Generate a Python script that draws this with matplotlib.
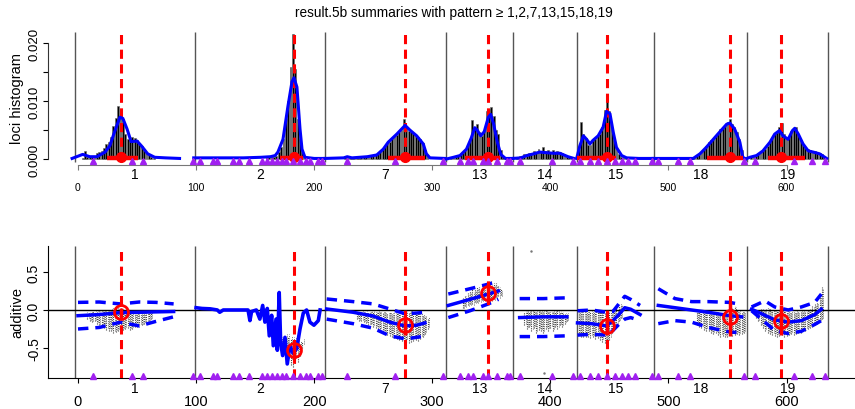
import numpy as np
import matplotlib.pyplot as plt

plt.rcParams['font.family'] = ['Liberation Sans', 'DejaVu Sans']

# chromosomes and qtl
chrom_names = ['1', '2', '7', '13', '14', '15', '18', '19']
chrom_bounds = [-2.5, 99, 209, 311.5, 368, 422.5, 487.5, 566.5, 635]
qtl_pos = [36, 183, 277, 347.5, 448, 552, 595]
ci_lo = [24.5, 171, 262.5, 327.7, 422.5, 532.6, 584]
ci_hi = [51, 190.5, 294, 357, 456, 563, 615.6]
qtl_eff = [-0.02, -0.52, -0.2, 0.22, -0.21, -0.09, -0.14]
qtl_eff_lo = [-0.06, -0.60, -0.33, 0.10, -0.33, -0.34, -0.33]
qtl_eff_hi = [0.02, -0.44, -0.12, 0.34, -0.12, 0.10, 0.06]
marker_pos = [12.7, 45.7, 55, 97.4, 103.3, 114.3, 117.7, 131.2, 136.3, 144.8, 155.8,
              160, 164.3, 168.5, 172.7, 176.1, 182, 188, 193, 196.4, 203.2, 206.6,
              227.8, 268.4, 309, 323.5, 330.2, 334.5, 343, 347.2, 354.8, 363.3, 365.8,
              374.3, 401.4, 419.1, 425, 433.5, 440.3, 447.9, 454.7, 460.6, 465.7, 471.6,
              486, 491, 508, 518.2, 564, 573.2, 606.3, 621.5, 632.5]

# loci histogram (x1e-3), bins of 2 cM starting at hist_start
hist_start = [4, 160, 226, 316, 372, 424, 520, 570]
hist_1 = [0.2, 1.4, 0.3, 0.3, 0.6, 0.5, 1.0, 1.2, 1.4, 1.9, 2.6, 3.0, 3.8, 5.7, 7.0, 9.2,
          8.3, 6.9, 4.4, 3.4, 3.2, 3.8, 3.6, 3.2, 2.6, 2.2, 1.5, 1.2, 0.7, 0.4, 0.2]
hist_2 = [0.3, 0.3, 0.4, 0.4, 0.5, 1.2, 2.0, 3.4, 6.9, 10.0, 15.8, 21.5, 15.5, 6.9, 3.4, 1.2, 0.4]
hist_7 = [0.6, 0.2, 0.1, 0.2, 0.1, 0.2, 0.2, 0.3, 0.4, 0.4, 0.5, 0.6, 0.5, 0.7, 1.0, 1.3, 1.8,
          2.3, 2.7, 3.0, 3.6, 4.1, 4.2, 4.6, 5.0, 6.9, 5.3, 4.9, 4.6, 4.5, 4.1, 3.8, 3.4, 2.8, 1.6, 0.6]
hist_13 = [0.3, 0.4, 0.5, 0.6, 0.8, 1.0, 1.5, 2.4, 3.5, 6.8, 5.4, 6.0, 4.6, 4.0, 5.0, 8.3,
           8.6, 9.0, 7.4, 5.0, 4.3, 1.5, 0.5, 0.2]
hist_14 = [0.3, 0.5, 0.4, 0.8, 0.6, 1.0, 0.9, 1.3, 1.2, 1.8, 1.4, 2.1, 1.3, 1.6, 1.1, 1.5,
           1.0, 1.4, 1.2, 1.0, 0.8, 0.6, 0.4, 0.2]
hist_15 = [1.5, 6.3, 4.3, 3.6, 2.5, 2.4, 3.3, 3.5, 4.0, 4.4, 5.6, 8.5, 10.0, 8.3, 5.3, 3.2,
           1.8, 0.8, 0.4, 0.3, 0.2]
hist_18 = [0.3, 0.4, 0.6, 0.9, 1.3, 1.8, 2.2, 3.0, 3.2, 3.5, 3.9, 4.4, 5.2, 5.6, 5.9, 6.3,
           6.9, 6.0, 5.5, 4.6, 3.5, 1.5, 0.3]
hist_19 = [0.3, 0.5, 0.7, 1.0, 1.2, 1.5, 1.8, 2.3, 3.0, 3.6, 4.3, 4.6, 5.6, 6.2, 4.4, 3.6,
           3.7, 4.9, 5.4, 5.6, 4.4, 3.2, 2.4, 1.9, 1.7, 1.6, 1.4, 1.3, 1.2, 1.1, 0.8, 0.4]

# smoothed density (x1e-3)
dens1_x = [-5, 4, 10, 16, 23, 27, 31, 35.5, 38, 41.5, 45, 50, 54, 59, 65, 74, 86]
dens1_y = [0.1, 0.8, 0.4, 0.4, 1.2, 2.3, 4.7, 7.2, 7.0, 5.2, 3.0, 3.1, 2.2, 0.9, 0.3, 0.2, 0.1]
dens2_x = [98, 120, 140, 155, 163, 167, 169.3, 173.6, 177.8, 181.2, 182.9, 185.4, 188, 189.7, 192.2, 200, 208]
dens2_y = [0.2, 0.2, 0.2, 0.3, 0.4, 0.6, 1.2, 3.4, 9.1, 13.3, 14.0, 12.4, 5.2, 1.7, 0.3, 0.1, 0.1]
dens7_x = [209, 225, 228, 232, 245, 253, 258.5, 262.7, 270, 277, 281, 286.8, 292.4, 295, 298, 311]
dens7_y = [0.1, 0.2, 0.4, 0.2, 0.4, 0.7, 1.7, 2.9, 4.3, 5.8, 5.0, 4.0, 2.6, 0.9, 0.2, 0.1]
dens13_x = [312, 318, 323.5, 329, 333, 336, 338, 341, 344, 347.5, 349.5, 352, 355, 358, 362, 368]
dens13_y = [0.0, 0.3, 0.6, 1.7, 3.6, 5.4, 5.0, 4.0, 4.7, 7.2, 7.7, 6.0, 3.0, 0.8, 0.1, 0.1]
dens14_x = [368, 375, 380, 386, 391, 396, 402, 408, 415, 420]
dens14_y = [0.1, 0.2, 0.6, 0.9, 1.2, 1.1, 1.0, 1.0, 0.4, 0.1]
dens15_x = [422.3, 425, 428, 430.7, 433.5, 436, 440.5, 444.7, 447.6, 450.5, 453.3, 456, 460.4, 464.6, 475, 487]
dens15_y = [0.1, 2.3, 4.0, 3.4, 2.6, 3.2, 4.0, 5.5, 8.2, 7.8, 4.6, 2.0, 0.6, 0.2, 0.1, 0.1]
dens18_x = [487, 505, 521, 526.7, 532, 538, 543.6, 549.3, 552, 556, 560.5, 563, 565.6]
dens18_y = [0.1, 0.1, 0.1, 0.9, 2.0, 3.4, 4.7, 6.0, 6.2, 5.2, 2.9, 0.3, 0.0]
dens19_x = [566.5, 569, 574.6, 580, 586, 590, 594, 597, 601.4, 605, 607, 610, 614, 618.4, 622.6, 628, 634]
dens19_y = [0.1, 0.3, 0.6, 1.4, 2.9, 4.3, 4.9, 4.0, 3.4, 4.9, 5.3, 4.3, 2.6, 1.4, 1.2, 0.9, 0.1]

# additive effect summaries
eff1_x = [0, 18, 36, 52, 66, 81]
eff1_mean = [-0.075, -0.06, -0.035, -0.03, -0.025, -0.02]
eff1_up = [0.10, 0.105, 0.08, 0.105, 0.10, 0.08]
eff1_lo = [-0.25, -0.23, -0.16, -0.21, -0.15, -0.09]
eff2_x = [100, 105, 112, 118, 120, 123, 135, 144, 145.6, 147, 151, 154, 156.4, 158.3, 160.3,
          162, 164, 165.4, 167.7, 168.8, 170.4, 171.6, 173.3, 175.3, 177.2, 179.5, 182.3,
          185.2, 188, 190.8, 193.6, 196.4, 199.8, 203.5, 205]
eff2_mean = [0.03, 0.02, 0.015, 0.0, -0.03, 0.0, 0.0, 0.0, -0.14, -0.02, 0.0, -0.12, 0.06,
             -0.16, 0.02, -0.34, -0.07, -0.47, -0.12, -0.53, 0.23, -0.43, -0.6, -0.36, -0.71,
             -0.47, -0.57, -0.51, -0.25, -0.04, 0.0, -0.16, -0.2, -0.14, 0.0]
eff7_x = [210.6, 233, 250, 264, 277, 286.8, 293.8]
eff7_mean = [0.013, -0.03, -0.08, -0.16, -0.21, -0.2, -0.17]
eff7_up = [0.145, 0.11, 0.08, 0.013, -0.05, -0.04, -0.03]
eff7_lo = [-0.12, -0.18, -0.24, -0.34, -0.38, -0.36, -0.34]
eff13_x = [313.6, 332, 347.5, 356]
eff13_mean = [0.06, 0.14, 0.21, 0.25]
eff13_up = [0.21, 0.28, 0.34, 0.38]
eff13_lo = [-0.10, -0.01, 0.08, 0.14]
eff14_x = [374, 394, 414]
eff14_mean = [-0.10, -0.09, -0.09]
eff14_up = [0.15, 0.15, 0.16]
eff14_lo = [-0.35, -0.35, -0.34]
eff15_x = [423, 435, 447.6, 453, 458, 463, 468, 476]
eff15_mean = [-0.17, -0.18, -0.21, -0.14, -0.06, 0.03, 0.01, -0.06]
eff15_up = [-0.01, 0.0, -0.03, -0.02, 0.08, 0.18, 0.14, 0.06]
eff15_lo = [-0.33, -0.32, -0.33, -0.27, -0.19, -0.12, -0.10, -0.14]
eff18_x = [491.4, 505.5, 519.6, 533.7, 552, 562]
eff18_mean = [0.06, 0.03, 0.0, -0.03, -0.075, -0.09]
eff18_up = [0.28, 0.15, 0.11, 0.11, 0.10, 0.07]
eff18_lo = [-0.18, -0.14, -0.16, -0.23, -0.29, -0.30]
eff19_x = [570.4, 581.7, 590, 601.4, 612.6, 623.9, 629.5]
eff19_mean = [0.01, -0.07, -0.13, -0.16, -0.14, -0.06, 0.01]
eff19_up = [0.04, 0.12, 0.04, 0.0, 0.04, 0.10, 0.21]
eff19_lo = [-0.01, -0.16, -0.27, -0.31, -0.28, -0.19, -0.14]

# sampled effects, range per 2 cM bin starting at samp_start
samp_start = [8, 172, 236, 326, 378, 424, 524, 574]
samp1_lo = [-0.12, -0.14, -0.16, -0.15, -0.18, -0.2, -0.22, -0.24, -0.26, -0.27, -0.28, -0.3, -0.29, -0.28,
            -0.27, -0.26, -0.25, -0.24, -0.26, -0.25, -0.23, -0.22, -0.2, -0.2, -0.18, -0.16, -0.14, -0.12]
samp1_hi = [-0.03, -0.03, -0.02, -0.02, -0.02, -0.01, -0.01, 0.0, 0.0, 0.01, 0.01, 0.02, 0.02, 0.02,
            0.02, 0.01, 0.01, 0.0, 0.0, 0.0, -0.01, -0.01, -0.01, -0.02, -0.02, -0.02, -0.03, -0.03]
samp2_lo = [-0.55, -0.6, -0.65, -0.7, -0.72, -0.75, -0.7, -0.68, -0.6, -0.5]
samp2_hi = [-0.4, -0.38, -0.35, -0.35, -0.38, -0.4, -0.4, -0.42, -0.45, -0.42]
samp7_lo = [-0.12, -0.14, -0.15, -0.16, -0.17, -0.2, -0.19, -0.22, -0.24, -0.25, -0.27, -0.29, -0.3,
            -0.33, -0.34, -0.36, -0.37, -0.38, -0.4, -0.41, -0.43, -0.42, -0.43, -0.42, -0.41, -0.4,
            -0.41, -0.38, -0.36, -0.32, -0.25]
samp7_hi = [-0.03, -0.03, -0.02, -0.03, -0.02, -0.03, -0.02, -0.02, -0.03, -0.02, -0.03, -0.02, -0.03,
            -0.04, -0.03, -0.05, -0.04, -0.03, -0.04, -0.02, -0.01, -0.02, -0.03, 0.0, -0.02, -0.03,
            -0.04, -0.05, -0.06, -0.08, -0.1]
samp13_lo = [0.03, 0.05, 0.06, 0.08, 0.08, 0.1, 0.1, 0.12, 0.13, 0.13, 0.12, 0.1, 0.13, 0.15, 0.17, 0.18, 0.2]
samp13_hi = [0.17, 0.2, 0.22, 0.25, 0.27, 0.28, 0.3, 0.3, 0.32, 0.34, 0.36, 0.37, 0.38, 0.36, 0.35, 0.33, 0.28]
samp14_lo = [-0.2, -0.25, -0.22, -0.28, -0.24, -0.3, -0.26, -0.28, -0.3, -0.25, -0.27, -0.24, -0.28,
             -0.22, -0.25, -0.2, -0.22, -0.18, -0.15]
samp14_hi = [-0.02, -0.01, -0.02, 0.0, -0.01, -0.02, 0.0, -0.01, -0.02, 0.0, -0.01, -0.02, -0.01,
             -0.02, 0.0, -0.02, -0.03, -0.04, -0.05]
samp15_lo = [-0.33, -0.35, -0.35, -0.36, -0.35, -0.37, -0.36, -0.38, -0.37, -0.4, -0.42, -0.44,
             -0.48, -0.4, -0.3, -0.25, -0.2, -0.15, -0.1]
samp15_hi = [-0.02, -0.02, -0.02, -0.02, -0.02, -0.02, -0.02, -0.02, -0.02, -0.02, -0.02, -0.02,
             0.0, -0.02, -0.05, -0.02, 0.02, 0.05, 0.08]
samp18_lo = [-0.2, -0.22, -0.24, -0.26, -0.27, -0.28, -0.3, -0.32, -0.3, -0.33, -0.35, -0.34,
             -0.36, -0.35, -0.33, -0.34, -0.33, -0.32, -0.33, -0.32, -0.3]
samp18_hi = [0.0, -0.01, -0.02, -0.02, -0.03, -0.02, -0.03, -0.04, -0.03, -0.03, -0.04, -0.03,
             -0.02, -0.03, 0.0, 0.02, 0.05, 0.0, -0.02, -0.02, -0.03]
samp19_lo = [-0.1, -0.15, -0.2, -0.24, -0.28, -0.3, -0.32, -0.33, -0.34, -0.35, -0.34, -0.33, -0.35,
             -0.34, -0.33, -0.32, -0.33, -0.31, -0.3, -0.3, -0.28, -0.27, -0.25, -0.24, -0.22,
             -0.2, -0.18, -0.15, -0.12]
samp19_hi = [0.0, 0.0, 0.01, 0.02, 0.01, 0.02, 0.01, 0.0, -0.01, 0.0, -0.01, -0.02, -0.01, -0.02,
             -0.03, -0.02, -0.03, -0.02, -0.03, -0.02, -0.01, -0.02, 0.0, 0.02, 0.05, 0.08, 0.1, 0.2, 0.3]

hists = [hist_1, hist_2, hist_7, hist_13, hist_14, hist_15, hist_18, hist_19]
dens = [(dens1_x, dens1_y), (dens2_x, dens2_y), (dens7_x, dens7_y), (dens13_x, dens13_y),
        (dens14_x, dens14_y), (dens15_x, dens15_y), (dens18_x, dens18_y), (dens19_x, dens19_y)]
effs = [(eff1_x, eff1_mean, eff1_up, eff1_lo), (eff7_x, eff7_mean, eff7_up, eff7_lo),
        (eff13_x, eff13_mean, eff13_up, eff13_lo), (eff14_x, eff14_mean, eff14_up, eff14_lo),
        (eff15_x, eff15_mean, eff15_up, eff15_lo), (eff18_x, eff18_mean, eff18_up, eff18_lo),
        (eff19_x, eff19_mean, eff19_up, eff19_lo)]
samps = [(samp1_lo, samp1_hi), (samp2_lo, samp2_hi), (samp7_lo, samp7_hi), (samp13_lo, samp13_hi),
         (samp14_lo, samp14_hi), (samp15_lo, samp15_hi), (samp18_lo, samp18_hi), (samp19_lo, samp19_hi)]

W, H = 855, 410
fig = plt.figure(figsize=(W / 100, H / 100), dpi=100)
ax1 = fig.add_axes([48 / W, 1 - 166 / H, (W - 48) / W, (166 - 32) / H])
ax2 = fig.add_axes([48 / W, 1 - 379 / H, (W - 48) / W, (379 - 247) / H])

blue = '#0000ff'
red = '#ff0000'
purple = '#a020f0'
xlim = (-25.4, 658)
mids = [(a + b) / 2 for a, b in zip(chrom_bounds[:-1], chrom_bounds[1:])]

# ---- top panel: loci histogram
ax1.set_xlim(*xlim)
ax1.set_ylim(-0.00103, 0.02207)
for s, h in zip(hist_start, hists):
    x = s + 2 * np.arange(len(h))
    ax1.bar(x, np.array(h) / 1000, width=1.6, color='black', edgecolor='#6a6a6a', lw=0.4, zorder=2)
for dx, dy in dens:
    ax1.plot(dx, np.array(dy) / 1000, color=blue, lw=2.2, zorder=4)
ax1.vlines(chrom_bounds, -0.0005, 0.0219, color='#555555', lw=1, zorder=1)
for q in qtl_pos:
    ax1.axvline(q, ymin=0.03, ymax=1, color=red, lw=2.2, ls=(0, (3, 1.8)), zorder=3)
for a, b, q in zip(ci_lo, ci_hi, qtl_pos):
    ax1.plot([a, b], [0.0002, 0.0002], color=red, lw=3.2, solid_capstyle='butt', zorder=5)
    ax1.plot([q], [0.0003], 'o', color=red, ms=7, zorder=5)
ax1.plot(marker_pos, [-0.0004] * len(marker_pos), '^', color=purple, ms=5, mec=purple, zorder=6,
         clip_on=False)

for sp in ['top', 'right']:
    ax1.spines[sp].set_visible(False)
ax1.spines['left'].set_bounds(0, 0.02)
ax1.spines['bottom'].set_bounds(0, 600)
ax1.spines['left'].set_color('#333333')
ax1.spines['bottom'].set_color('#777777')
ax1.set_yticks([0, 0.005, 0.01, 0.015, 0.02])
ax1.set_yticklabels(['0.000', '', '0.010', '', '0.020'], rotation=90, va='center')
ax1.set_xticks([0, 100, 200, 300, 400, 500, 600])
ax1.set_xticklabels(['0', '100', '200', '300', '400', '500', '600'])
ax1.tick_params(axis='y', length=3.6, pad=1.5, labelsize=9.5)
ax1.tick_params(axis='x', length=3.6, pad=8.5, labelsize=7.5, color='#777777')
for m, n in zip(mids, chrom_names):
    ax1.annotate(n, (m, 0), xycoords=ax1.get_xaxis_transform(), xytext=(0, -6.5),
                 textcoords='offset points', ha='center', va='center', fontsize=10)

# ---- bottom panel: additive effects
ax2.set_xlim(*xlim)
ax2.set_ylim(-0.895, 0.842)
for s, (lo, hi) in zip(samp_start, samps):
    x = s + 2 * np.arange(len(lo))
    ax2.vlines(x, lo, hi, color='#444444', lw=0.8, ls=(0, (1, 1)), zorder=2)
    ax2.vlines(x + 1, np.array(lo) * 0.9, np.array(hi) * 0.9, color='#666666', lw=0.7,
               ls=(0, (1, 1.2)), zorder=2)
ax2.plot([383.6, 394.6], [0.78, -0.83], '.', color='#777777', ms=1.5)
ax2.axhline(0, color='black', lw=1, zorder=3)
ax2.vlines(chrom_bounds, -0.895, 0.842, color='#555555', lw=1, zorder=1)
ax2.plot(eff2_x, eff2_mean, color=blue, lw=2.6, zorder=4)
for ex, em, eu, el in effs:
    ax2.plot(ex, em, color=blue, lw=2.5, zorder=4)
    ax2.plot(ex, eu, color=blue, lw=2.5, ls=(0, (3, 2)), zorder=4)
    ax2.plot(ex, el, color=blue, lw=2.5, ls=(0, (3, 2)), zorder=4)
for q in qtl_pos:
    ax2.axvline(q, color=red, lw=2.2, ls=(0, (3, 1.8)), zorder=5)
ax2.vlines(qtl_pos, qtl_eff_lo, qtl_eff_hi, color=red, lw=2.5, zorder=6)
ax2.plot(qtl_pos, qtl_eff, 'o', mfc='none', mec=red, mew=2, ms=10, zorder=7)
ax2.plot(marker_pos, [-0.87] * len(marker_pos), '^', color=purple, ms=5, mec=purple, zorder=6,
         clip_on=False)

for sp in ['top', 'right']:
    ax2.spines[sp].set_visible(False)
ax2.set_yticks([0.5, 0.0, -0.5])
ax2.set_yticklabels(['0.5', '0.0', '-0.5'], rotation=90, va='center')
ax2.set_xticks([0, 100, 200, 300, 400, 500, 600])
ax2.set_xticklabels(['0', '100', '200', '300', '400', '500', '600'])
ax2.tick_params(axis='y', length=3.6, pad=1.5, labelsize=10)
ax2.tick_params(axis='x', length=3.6, pad=8, labelsize=10.5)
for m, n in zip(mids, chrom_names):
    ax2.annotate(n, (m, 0), xycoords=ax2.get_xaxis_transform(), xytext=(0, -7),
                 textcoords='offset points', ha='center', va='center', fontsize=10)

fig.text(17 / W, 1 - 99 / H, 'loci histogram', rotation=90, ha='center', va='center', fontsize=10.5)
fig.text(17 / W, 1 - 313 / H, 'additive', rotation=90, ha='center', va='center', fontsize=10.5)
fig.text(454 / W, 1 - 13 / H, 'result.5b summaries with pattern \u2265 1,2,7,13,15,18,19',
         ha='center', va='center', fontsize=9.8)

fig.savefig('out.png', dpi=100)
